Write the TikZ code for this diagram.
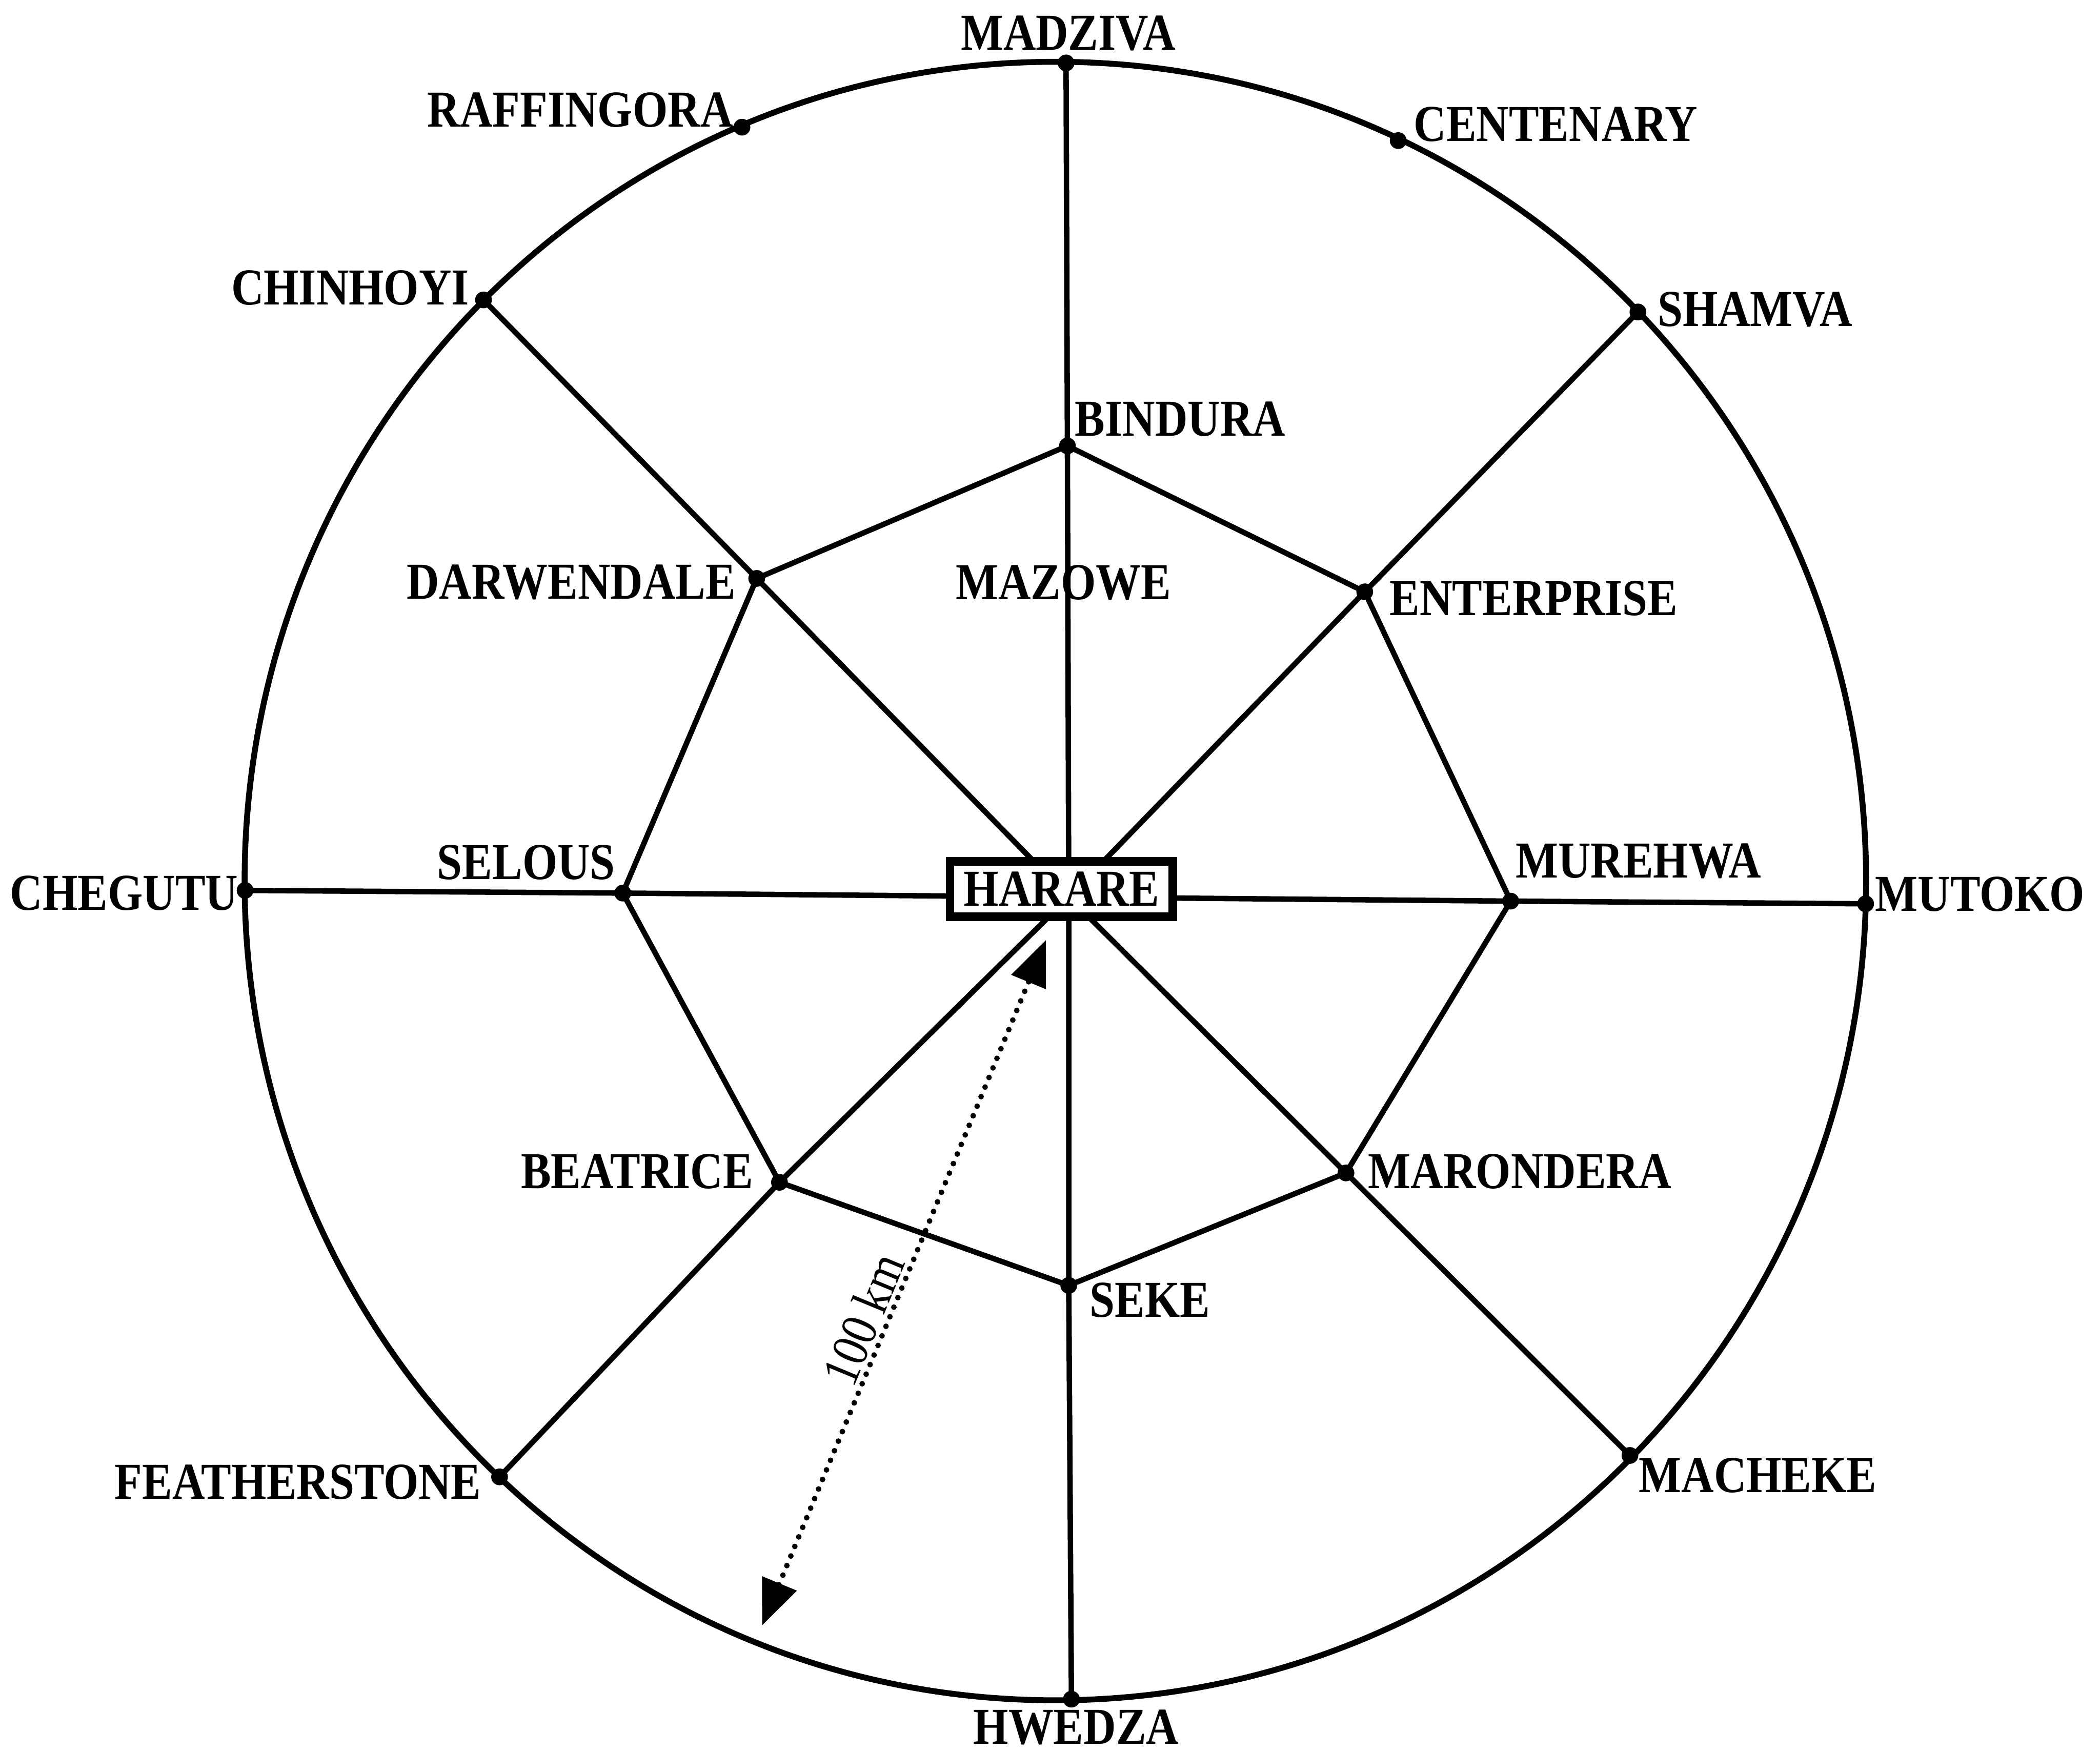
\documentclass[tikz,border=0pt]{standalone}
\usepackage{fontspec}
\newfontfamily\lblfont{Liberation Serif}[FakeStretch=0.87]
\usetikzlibrary{arrows.meta}
\begin{document}
\begin{tikzpicture}[x=0.01cm,y=-0.01cm,
  lbl/.style={font=\lblfont\fontsize{11}{13}\selectfont\bfseries, inner sep=0pt},
  dot/.style={circle, fill=black, inner sep=0pt, minimum size=0.125cm},
  road/.style={line width=1.15pt, line join=round},
  ring/.style={line width=1.25pt},
  scalebar/.style={line width=1.2pt, line cap=round, dash pattern=on 0pt off 2.2pt,
    {Triangle[length=3.4mm,width=2.7mm]}-{Triangle[length=3.4mm,width=2.7mm]}}]
\useasboundingbox (0,0) rectangle (1568,1309);

% circle
\coordinate (C) at (788,658);
\draw[ring] (C) ellipse [x radius=6.05cm, y radius=6.115cm];

% centre of the spokes
\coordinate (hc) at (798,670);

% outer dots
\node[dot] (madziva) at (796,47) {};
\node[dot] (hwedza) at (800,1269) {};
\node[dot] (chegutu) at (183,665) {};
\node[dot] (mutoko) at (1393,675) {};
\node[dot] (chinhoyi) at (361,224) {};
\node[dot] (shamva) at (1223,233) {};
\node[dot] (featherstone) at (373,1103) {};
\node[dot] (macheke) at (1217,1087) {};
\node[dot] (raffingora) at (554,95) {};
\node[dot] (centenary) at (1044,105) {};

% inner dots
\node[dot] (bindura) at (797,333) {};
\node[dot] (enterprise) at (1019,442) {};
\node[dot] (murehwa) at (1128,673) {};
\node[dot] (marondera) at (1005,876) {};
\node[dot] (seke) at (798,960) {};
\node[dot] (beatrice) at (582,883) {};
\node[dot] (selous) at (465,667) {};
\node[dot] (darwendale) at (565,432) {};

% spokes
\draw[road] (madziva.center) -- (bindura.center) -- (hc) -- (seke.center) -- (hwedza.center);
\draw[road] (chegutu.center) -- (selous.center) -- (hc) -- (murehwa.center) -- (mutoko.center);
\draw[road] (chinhoyi.center) -- (darwendale.center) -- (hc) -- (marondera.center) -- (macheke.center);
\draw[road] (shamva.center) -- (enterprise.center) -- (hc) -- (beatrice.center) -- (featherstone.center);

% inner ring
\draw[road] (bindura.center) -- (enterprise.center) -- (murehwa.center) -- (marondera.center)
  -- (seke.center) -- (beatrice.center) -- (selous.center) -- (darwendale.center) -- cycle;

% Harare box
\node[lbl, draw, fill=white, line width=1.3pt, minimum width=1.68cm, minimum height=0.43cm]
  (harare) at (792.5,664) {HARARE};
\draw[line width=0.5pt] ([xshift=1.55pt,yshift=1.55pt]harare.south west)
  rectangle ([xshift=-1.55pt,yshift=-1.55pt]harare.north east);

% scale bar
\coordinate (abot) at (569,1214);
\coordinate (atop) at (781,702);
\draw[scalebar] (abot) -- node[pos=0.434, sloped, above, inner sep=0.6pt,
  font=\lblfont\fontsize{11}{13}\selectfont] (km) {100 km} (atop);

% labels
\node[lbl] (l-madziva) at (797.5,25) {MADZIVA};
\node[lbl] (l-hwedza) at (803.5,1290) {HWEDZA};
\node[lbl, anchor=east] (l-chegutu) at (178.5,667) {CHEGUTU};
\node[lbl, anchor=west] (l-mutoko) at (1399.5,668) {MUTOKO};
\node[lbl, anchor=east] (l-raffingora) at (548,82) {RAFFINGORA};
\node[lbl, anchor=west] (l-centenary) at (1055,93) {CENTENARY};
\node[lbl, anchor=east] (l-chinhoyi) at (351,215) {CHINHOYI};
\node[lbl, anchor=west] (l-shamva) at (1237,231) {SHAMVA};
\node[lbl, anchor=west] (l-bindura) at (802,313) {BINDURA};
\node[lbl] (l-mazowe) at (794,435) {MAZOWE};
\node[lbl, anchor=east] (l-darwendale) at (550,435) {DARWENDALE};
\node[lbl, anchor=west] (l-enterprise) at (1037,447) {ENTERPRISE};
\node[lbl, anchor=east] (l-selous) at (460,644) {SELOUS};
\node[lbl, anchor=west] (l-murehwa) at (1131,643) {MUREHWA};
\node[lbl, anchor=east] (l-beatrice) at (563,875) {BEATRICE};
\node[lbl, anchor=west] (l-marondera) at (1021,875) {MARONDERA};
\node[lbl, anchor=west] (l-seke) at (813,971) {SEKE};
\node[lbl, anchor=east] (l-featherstone) at (360,1107) {FEATHERSTONE};
\node[lbl, anchor=west] (l-macheke) at (1223,1102) {MACHEKE};
\end{tikzpicture}
\end{document}
